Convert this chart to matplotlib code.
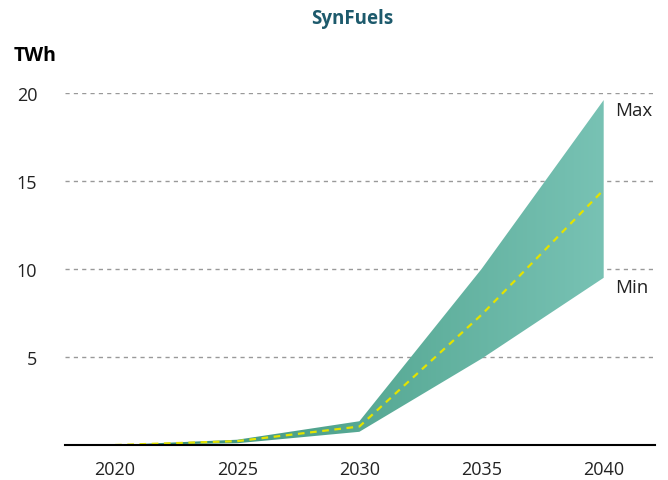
import numpy as np
import matplotlib
matplotlib.use("Agg")
import matplotlib.pyplot as plt
from matplotlib.colors import LinearSegmentedColormap

plt.rcParams['font.family'] = ['Open Sans', 'DejaVu Sans']

years = [2020, 2025, 2030, 2035, 2040]
max_twh = [0.0, 0.3, 1.35, 10.0, 19.6]
min_twh = [0.0, 0.1, 0.75, 4.9, 9.5]
mid_twh = [0.0, 0.22, 1.05, 7.4, 14.5]
yticks = [5, 10, 15, 20]

fig = plt.figure(figsize=(6.68, 4.81), dpi=100)
ax = fig.add_axes([65 / 668, 1 - 446 / 481, 590 / 668, 352 / 481])

# band with a left-to-right gradient, clipped to the min/max area
band = ax.fill_between(years, min_twh, max_twh, color='none', lw=0)
cmap = LinearSegmentedColormap.from_list('band', ['#358f74', '#78c2b4'])
grad = np.linspace(0, 1, 256).reshape(1, -1)
img = ax.imshow(grad, cmap=cmap, aspect='auto', extent=[2020, 2040, 0, 20],
                origin='lower', zorder=2)
img.set_clip_path(band.get_paths()[0], transform=ax.transData)

ax.plot(years, mid_twh, color='#e3e300', lw=1.6, ls=(0, (3, 2.5)), zorder=3)

ax.set_xlim(2017.95, 2042.1)
ax.set_ylim(0, 20)
ax.set_xticks(years)
ax.set_yticks(yticks)
ax.tick_params(axis='both', length=0, labelsize=13, colors='#222222')
ax.tick_params(axis='x', pad=11)
ax.tick_params(axis='y', pad=20)
ax.grid(axis='y', color='#999999', ls=(0, (3, 3)), lw=1)
ax.set_axisbelow(True)
for s in ['left', 'right', 'top']:
    ax.spines[s].set_visible(False)
ax.spines['bottom'].set_color('black')
ax.spines['bottom'].set_linewidth(1.5)
ax.spines['bottom'].set_zorder(4)

ax.text(2040.45, max_twh[-1] - 0.55, 'Max', fontsize=13.5, va='center', ha='left', color='#222222')
ax.text(2040.45, min_twh[-1] - 0.55, 'Min', fontsize=13.5, va='center', ha='left', color='#222222')

fig.text(352 / 668, 1 - 19 / 481, 'SynFuels', fontsize=13.5, fontweight='bold',
         color='#1d5a6c', ha='center', va='center')
fig.text(14 / 668, 1 - 56 / 481, 'TWh', fontsize=14, fontweight='bold',
         color='black', ha='left', va='center')

fig.savefig('out.png', dpi=100)
